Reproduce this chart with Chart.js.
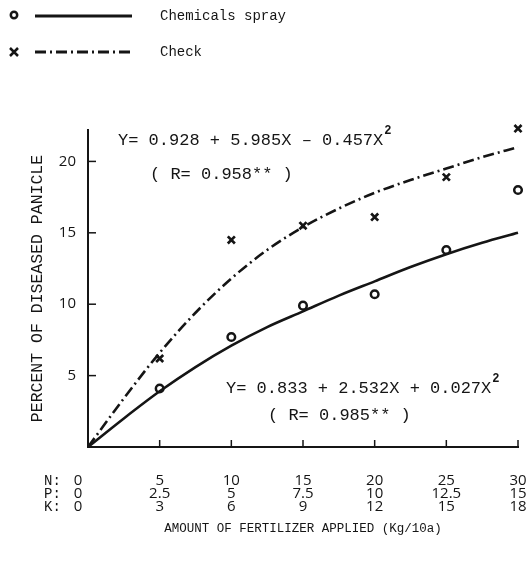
<!DOCTYPE html>
<html>
<head>
<meta charset="utf-8">
<script src="https://cdn.jsdelivr.net/npm/chart.js@4.4.1/dist/chart.umd.min.js"></script>
<style>
  html, body { margin: 0; padding: 0; background: #fff; }
  #wrap { width: 529px; height: 565px; position: relative; }
</style>
</head>
<body>
<div id="wrap"><canvas id="diseaseChart"></canvas></div>
<script>
// fertilizer levels (Kg/10a)
const nLevels = [0, 5, 10, 15, 20, 25, 30];
const pLevels = ['0', '2.5', '5', '7.5', '10', '12.5', '15'];
const kLevels = ['0', '3', '6', '9', '12', '15', '18'];
const yTicks = [5, 10, 15, 20];

// observed points, N = 5 .. 30
const pointN = [5, 10, 15, 20, 25, 30];
const sprayObserved = [4.1, 7.7, 9.9, 10.7, 13.8, 18.0];
const checkObserved = [6.2, 14.5, 15.5, 16.1, 18.9, 22.3];

// fitted curves
const curveN = [0, 2.5, 5, 7.5, 10, 12.5, 15, 17.5, 20, 22.5, 25, 27.5, 30];
const sprayCurve = [0, 2.0, 3.9, 5.6, 7.1, 8.4, 9.5, 10.6, 11.6, 12.6, 13.5, 14.3, 15.0];
const checkCurve = [0, 3.4, 6.6, 9.4, 11.8, 13.8, 15.4, 16.7, 17.8, 18.7, 19.5, 20.3, 21.0];

const ink = '#151515';
const mono = '"Liberation Mono", "DejaVu Sans Mono", monospace';
const nums = '"Open Sans", "DejaVu Sans", sans-serif';
const checkDash = [11, 4, 2, 4];

const toPoints = (xs, ys) => xs.map((v, i) => ({ x: v, y: ys[i] }));

function drawEquation(ctx, text, x, y) {
    ctx.font = `17px ${mono}`;
    ctx.textAlign = 'left';
    ctx.textBaseline = 'middle';
    ctx.fillText(text, x, y);
    const w = ctx.measureText(text).width;
    ctx.font = `bold 12px ${mono}`;
    ctx.fillText('2', x + w + 1, y - 9);
}

const figurePlugin = {
    id: 'figure',
    afterDraw(chart) {
        const { ctx, scales: { x, y } } = chart;
        ctx.save();
        ctx.strokeStyle = ink;
        ctx.fillStyle = ink;
        ctx.lineWidth = 1.5;

        // inward tick marks
        yTicks.forEach((v) => {
            const py = y.getPixelForValue(v);
            ctx.beginPath();
            ctx.moveTo(x.left, py);
            ctx.lineTo(x.left + 8, py);
            ctx.stroke();
        });
        nLevels.slice(1).forEach((v) => {
            const px = x.getPixelForValue(v);
            ctx.beginPath();
            ctx.moveTo(px, y.bottom);
            ctx.lineTo(px, y.bottom - 7);
            ctx.stroke();
        });

        // N/P/K row headers and the zero column
        const rowY = [y.bottom + 34, y.bottom + 47, y.bottom + 60];
        const heads = ['N:', 'P:', 'K:'];
        const zeros = [String(nLevels[0]), pLevels[0], kLevels[0]];
        ctx.textBaseline = 'middle';
        heads.forEach((h, i) => {
            ctx.font = `14px ${mono}`;
            ctx.textAlign = 'left';
            ctx.fillText(h, 44, rowY[i]);
            ctx.font = `15px ${nums}`;
            ctx.textAlign = 'center';
            ctx.fillText(zeros[i], x.left - 10, rowY[i]);
        });

        // legend
        ctx.lineWidth = 3;
        ctx.beginPath();
        ctx.moveTo(35, 16);
        ctx.lineTo(132, 16);
        ctx.stroke();
        ctx.setLineDash(checkDash);
        ctx.beginPath();
        ctx.moveTo(35, 52);
        ctx.lineTo(132, 52);
        ctx.stroke();
        ctx.setLineDash([]);
        ctx.lineWidth = 2.5;
        ctx.beginPath();
        ctx.arc(14, 15, 3.2, 0, Math.PI * 2);
        ctx.stroke();
        ctx.beginPath();
        ctx.moveTo(10, 48); ctx.lineTo(18, 56);
        ctx.moveTo(18, 48); ctx.lineTo(10, 56);
        ctx.stroke();
        ctx.font = `14px ${mono}`;
        ctx.textAlign = 'left';
        ctx.fillText('Chemicals spray', 160, 16);
        ctx.fillText('Check', 160, 52);

        // regression equations
        drawEquation(ctx, 'Y= 0.928 + 5.985X \u2013 0.457X', 118, 140);
        ctx.font = `17px ${mono}`;
        ctx.fillText('( R= 0.958** )', 150, 174);
        drawEquation(ctx, 'Y= 0.833 + 2.532X + 0.027X', 226, 388);
        ctx.font = `17px ${mono}`;
        ctx.fillText('( R= 0.985** )', 268, 415);

        ctx.restore();
    },
};

new Chart(document.getElementById('diseaseChart'), {
    type: 'scatter',
    data: {
        datasets: [
            {
                label: 'Chemicals spray',
                data: toPoints(curveN, sprayCurve),
                showLine: true,
                borderColor: ink,
                borderWidth: 2.6,
                pointRadius: 0,
                cubicInterpolationMode: 'monotone',
            },
            {
                label: 'Check',
                data: toPoints(curveN, checkCurve),
                showLine: true,
                borderColor: ink,
                borderWidth: 2.6,
                borderDash: checkDash,
                pointRadius: 0,
                cubicInterpolationMode: 'monotone',
            },
            {
                label: 'Chemicals spray (observed)',
                data: toPoints(pointN, sprayObserved),
                pointStyle: 'circle',
                pointRadius: 3.8,
                pointBorderWidth: 2.5,
                pointBorderColor: ink,
                pointBackgroundColor: '#fff',
            },
            {
                label: 'Check (observed)',
                data: toPoints(pointN, checkObserved),
                pointStyle: 'crossRot',
                pointRadius: 5,
                pointBorderWidth: 2.7,
                pointBorderColor: ink,
            },
        ],
    },
    options: {
        responsive: true,
        maintainAspectRatio: false,
        animation: false,
        clip: false,
        layout: {
            padding: { top: 130, right: 11, left: 0, bottom: 0 },
        },
        plugins: {
            legend: { display: false },
            tooltip: { enabled: false },
        },
        scales: {
            x: {
                type: 'linear',
                min: 0,
                max: 30,
                afterBuildTicks: (scale) => {
                    scale.ticks = nLevels.map((v) => ({ value: v }));
                },
                afterFit: (scale) => {
                    scale.height = 118;
                    scale.paddingLeft = 0;
                    scale.paddingRight = 0;
                },
                grid: { display: false, drawTicks: false },
                border: { display: true, color: ink, width: 2 },
                ticks: {
                    autoSkip: false,
                    maxRotation: 0,
                    padding: 27,
                    color: ink,
                    font: { family: nums, size: 15, lineHeight: 13 / 15 },
                    callback: (value, index) => (index === 0 ? ['', '', ''] : [String(nLevels[index]), pLevels[index], kLevels[index]]),
                },
                title: {
                    display: true,
                    text: 'AMOUNT OF FERTILIZER APPLIED (Kg/10a)',
                    color: ink,
                    font: { family: mono, size: 12.5 },
                    padding: { top: 0, bottom: 29 },
                },
            },
            y: {
                min: 0,
                max: 22.2,
                afterBuildTicks: (scale) => {
                    scale.ticks = yTicks.map((v) => ({ value: v }));
                },
                afterFit: (scale) => {
                    scale.width = 88;
                    scale.paddingTop = 0;
                    scale.paddingBottom = 0;
                },
                grid: { display: false, drawTicks: false },
                border: { display: true, color: ink, width: 2 },
                ticks: {
                    padding: 12,
                    color: ink,
                    font: { family: nums, size: 15 },
                },
                title: {
                    display: true,
                    text: 'PERCENT OF DISEASED PANICLE',
                    color: ink,
                    font: { family: mono, size: 16.5 },
                    padding: { top: 28, bottom: 0 },
                },
            },
        },
    },
    plugins: [figurePlugin],
});
</script>
</body>
</html>
